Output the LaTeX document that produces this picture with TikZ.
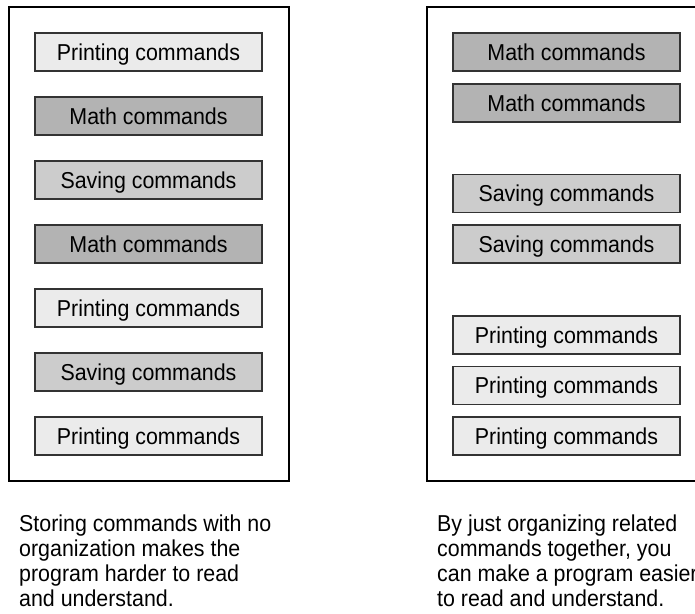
\documentclass[tikz,border=0pt]{standalone}
\usepackage{fontspec}
\setmainfont[FakeStretch=0.93]{Liberation Sans}
\definecolor{printfill}{HTML}{EBEBEB}
\definecolor{mathfill}{HTML}{B3B3B3}
\definecolor{savefill}{HTML}{CCCCCC}
\definecolor{boxline}{HTML}{333333}
\begin{document}
\begin{tikzpicture}[x=1pt,y=-1pt,
  cmdbox/.style={draw=boxline, line width=1.4pt, minimum width=227pt, minimum height=38pt,
    inner sep=0pt, text height=16.5pt, text depth=0pt, font=\fontsize{23}{25}\selectfont},
  printbox/.style={cmdbox, fill=printfill},
  mathbox/.style={cmdbox, fill=mathfill},
  savebox/.style={cmdbox, fill=savefill},
  frame/.style={draw=black, line width=1.8pt},
  capline/.style={anchor=base west, inner sep=0pt, font=\fontsize{23}{25}\selectfont}]
\useasboundingbox (0,0) rectangle (695,613);
\clip (0,0) rectangle (695,613);
% frames
\draw[frame] (9,7) rectangle (289,481);
\draw[frame] (427,7) rectangle (705,481);
% left column
\node[printbox] (l1) at (148.5,52) {Printing commands};
\node[mathbox]  (l2) at (148.5,116) {Math commands};
\node[savebox]  (l3) at (148.5,180) {Saving commands};
\node[mathbox]  (l4) at (148.5,244) {Math commands};
\node[printbox] (l5) at (148.5,308) {Printing commands};
\node[savebox]  (l6) at (148.5,372) {Saving commands};
\node[printbox] (l7) at (148.5,436) {Printing commands};
% right column
\node[mathbox]  (r1) at (566.5,52) {Math commands};
\node[mathbox]  (r2) at (566.5,103) {Math commands};
\node[savebox]  (r3) at (566.5,193.5) {Saving commands};
\node[savebox]  (r4) at (566.5,244) {Saving commands};
\node[printbox] (r5) at (566.5,335) {Printing commands};
\node[printbox] (r6) at (566.5,385.5) {Printing commands};
\node[printbox] (r7) at (566.5,436) {Printing commands};
% captions
\node[capline] (cl1) at (19,531) {Storing commands with no};
\node[capline] (cl2) at (19,556) {organization makes the};
\node[capline] (cl3) at (19,581) {program harder to read};
\node[capline] (cl4) at (19,606) {and understand.};
\node[capline] (cr1) at (437,531) {By just organizing related};
\node[capline] (cr2) at (437,556) {commands together, you};
\node[capline] (cr3) at (437,581) {can make a program easier};
\node[capline] (cr4) at (437,606) {to read and understand.};
\end{tikzpicture}
\end{document}
